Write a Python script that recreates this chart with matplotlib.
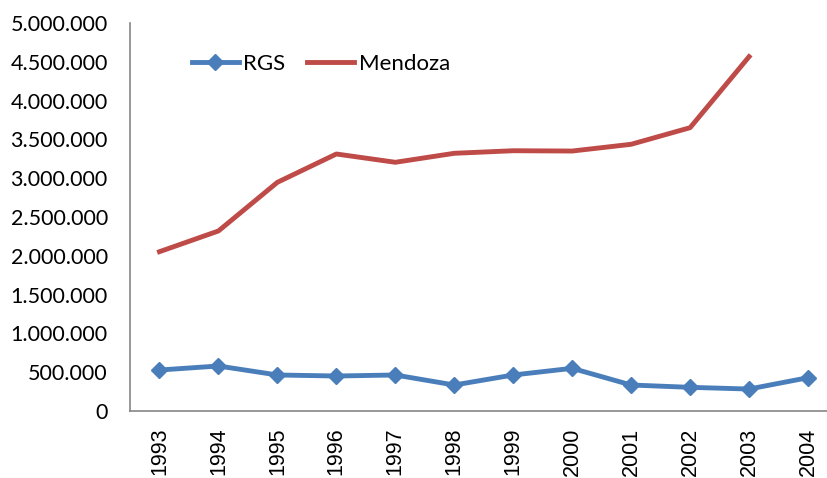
import matplotlib.pyplot as plt
from matplotlib.ticker import FuncFormatter

years = ['1993', '1994', '1995', '1996', '1997', '1998',
         '1999', '2000', '2001', '2002', '2003', '2004']
rgs = [528000, 580000, 464000, 451000, 464000, 335000,
       464000, 550000, 335000, 305000, 283000, 429000]
mendoza = [2053000, 2320000, 2947000, 3312000, 3205000, 3321000,
           3354000, 3350000, 3437000, 3651000, 4566000]

fig = plt.figure(figsize=(8.28, 4.78), dpi=100)
ax = fig.add_axes([130 / 828, 1 - 411 / 478, 707.5 / 828, 388 / 478])

x = list(range(len(years)))
ax.plot(x, rgs, color='#4A7EBB', lw=3.5, marker='D', ms=8,
        mec='#4A7EBB', label='RGS')
ax.plot(x[:len(mendoza)], mendoza, color='#BE4B48', lw=3.5, label='Mendoza')

ax.set_xlim(-0.5, 11.5)
ax.set_ylim(0, 5000000)
ax.set_yticks(range(0, 5000001, 500000))
ax.yaxis.set_major_formatter(FuncFormatter(lambda v, p: f'{int(v):,}'.replace(',', '.')))
ax.set_xticks(x)
ax.set_xticklabels(years, rotation=90, family='Liberation Sans', fontsize=15.5)
for t in ax.get_yticklabels():
    t.set_family('Lato')
    t.set_fontsize(15.5)

ax.tick_params(axis='both', length=0)
ax.tick_params(axis='y', pad=16)
ax.tick_params(axis='x', pad=12)
for s in ['top', 'right']:
    ax.spines[s].set_visible(False)
for s in ['left', 'bottom']:
    ax.spines[s].set_color('#868686')
    ax.spines[s].set_linewidth(1.2)

ax.legend(loc='center left', bbox_to_anchor=(0.075, 0.894), ncol=2, frameon=False,
          prop={'family': 'Lato', 'size': 16}, handlelength=2.1,
          handletextpad=0.2, columnspacing=1.0, borderaxespad=0)

fig.savefig('out.png', dpi=100)
